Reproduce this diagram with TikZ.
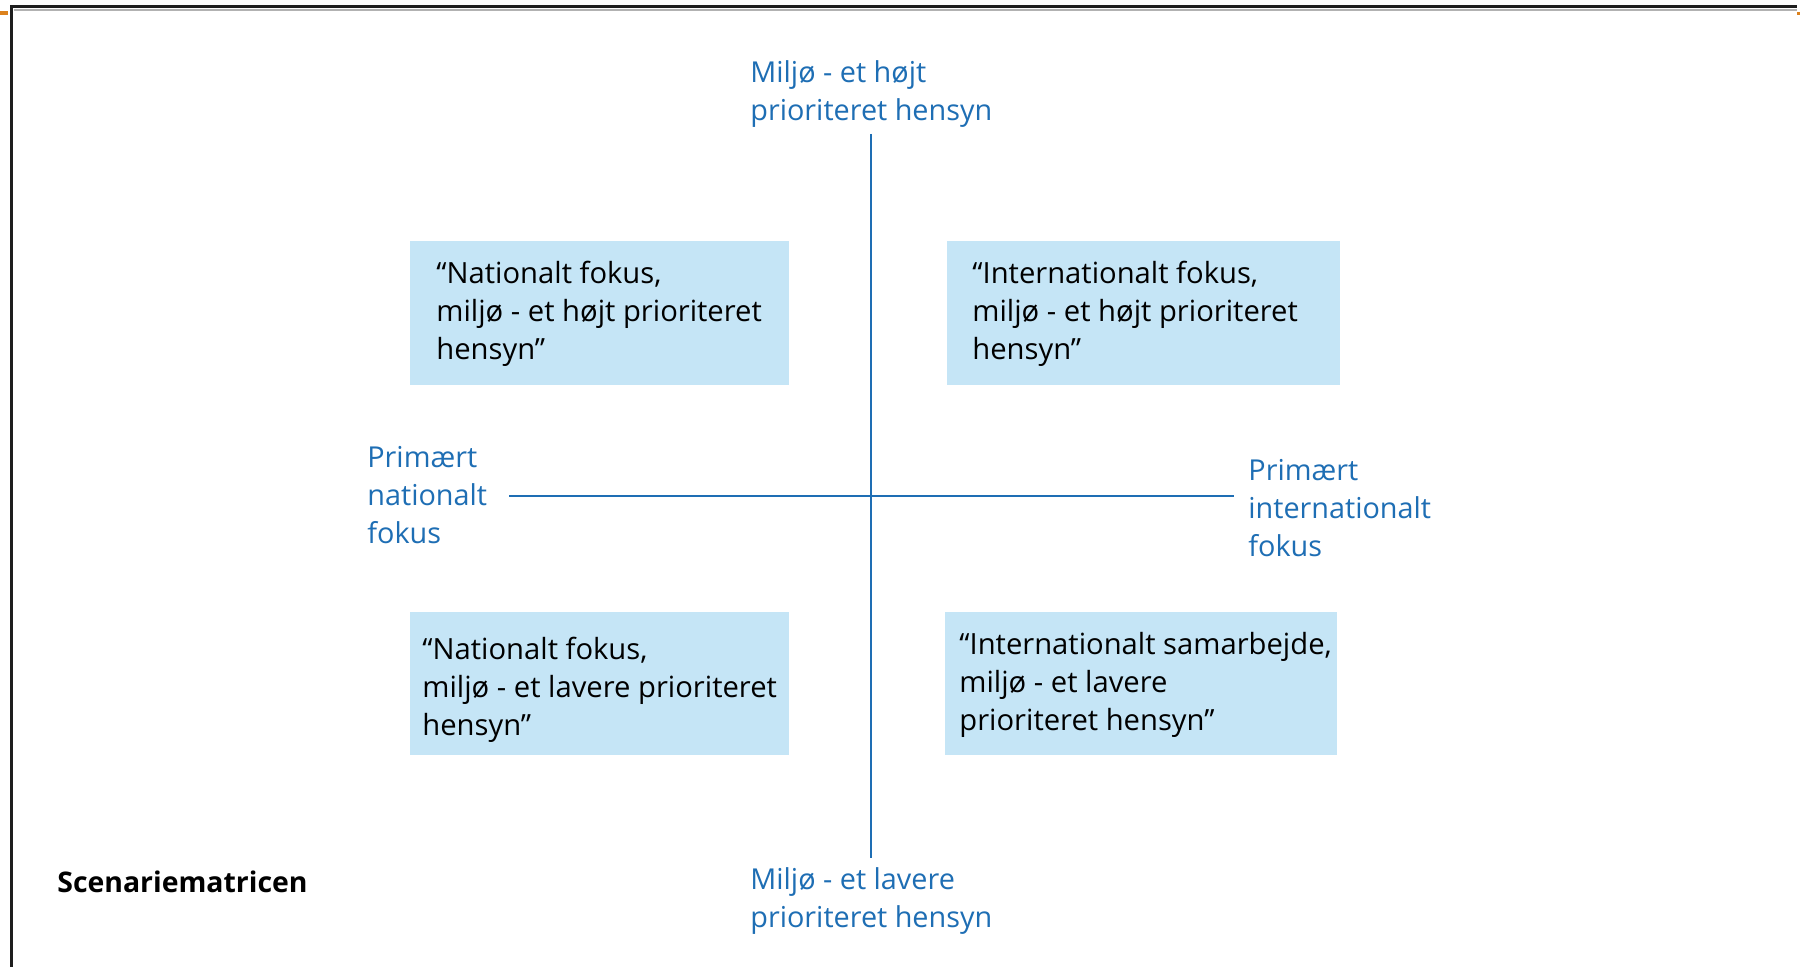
\documentclass[tikz,border=0pt]{standalone}
\usepackage{fontspec}
\setmainfont{Open Sans}
\definecolor{axisblue}{RGB}{30,110,180}
\definecolor{boxfill}{RGB}{197,229,246}
\definecolor{framegray}{RGB}{30,30,30}
\definecolor{markorange}{RGB}{220,130,30}
\begin{document}
\begin{tikzpicture}[x=0.5pt,y=-0.5pt,
  lbl/.style={anchor=north west,inner sep=0pt,align=left,text=axisblue,font=\fontsize{14.4}{19}\selectfont},
  boxtext/.style={anchor=north west,inner sep=0pt,align=left,text=black,font=\fontsize{14.6}{19}\selectfont},
  quad/.style={fill=boxfill,draw=none},
  axis/.style={draw=axisblue,line width=1pt}]
\useasboundingbox (0,0) rectangle (1800,967);
\fill[white] (0,0) rectangle (1800,967);
% frame
\draw[framegray,line width=1.5pt] (11,967) -- (11,7) -- (1797,7);
\draw[gray!60,line width=0.6pt] (14,10) -- (1797,10);
\fill[markorange] (0,11) rectangle (8,15);
\fill[markorange] (1797,12) rectangle (1800,15);
% boxes
\fill[quad] (410,241) rectangle (789,385);
\fill[quad] (947,241) rectangle (1340,385);
\fill[quad] (410,612) rectangle (789,755);
\fill[quad] (945,612) rectangle (1337,755);
% axes
\coordinate (vt) at (871,134);
\coordinate (vb) at (871,858);
\coordinate (hl) at (509,496);
\coordinate (hr) at (1234,496);
\draw[axis] (vt) -- (vb);
\draw[axis] (hl) -- (hr);
% labels
\node[lbl] (top) at (750,60) {Miljø - et højt\\prioriteret hensyn};
\node[lbl] (bot) at (750,867) {Miljø - et lavere\\prioriteret hensyn};
\node[lbl] (left) at (367,446) {Primært\\nationalt\\fokus};
\node[lbl] (right) at (1248,459) {Primært\\internationalt\\fokus};
\node[boxtext] (tl) at (436,261) {“Nationalt fokus,\\miljø - et højt prioriteret\\hensyn”};
\node[boxtext] (tr) at (972,261) {“Internationalt fokus,\\miljø - et højt prioriteret\\hensyn”};
\node[boxtext] (bl) at (422,637) {“Nationalt fokus,\\miljø - et lavere prioriteret\\hensyn”};
\node[boxtext] (br) at (959,632) {“Internationalt samarbejde,\\miljø - et lavere\\prioriteret hensyn”};
\node[anchor=north west,inner sep=0pt,font=\bfseries\fontsize{14.2}{19}\selectfont] (title) at (57,871) {Scenariematricen};
\end{tikzpicture}
\end{document}
